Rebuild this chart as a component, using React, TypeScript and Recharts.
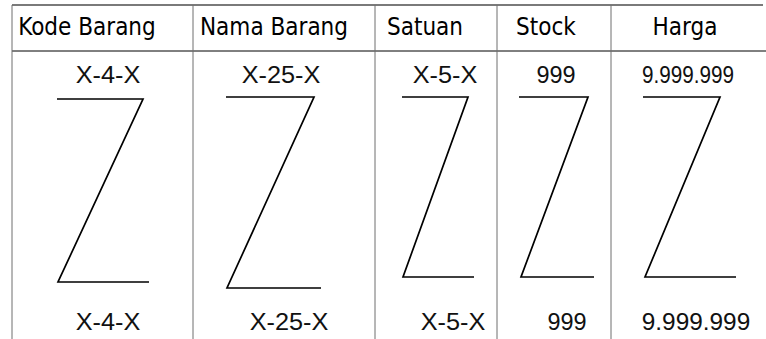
import React from 'react'
import {
  ComposedChart,
  Line,
  Scatter,
  XAxis,
  YAxis,
  ReferenceLine,
} from 'recharts'

// Report layout sketch: column headers, the sample field values above and
// below, and the "Z" repeat marker drawn in every column.
const headers = ['Kode Barang', 'Nama Barang', 'Satuan', 'Stock', 'Harga']
const fieldValues = ['X-4-X', 'X-25-X', 'X-5-X', '999', '9.999.999']

// layout units (same as the drawing's coordinate space)
const columnEdges = [12, 193, 375, 497, 611]
const headerCenters = [87, 274, 425, 546, 685]
const topValueCenters = [108, 281, 445, 556, 688]
const bottomValueCenters = [108, 289, 453, 567, 696]

// Z marker per column: top stroke (left, right, level), bottom stroke (left, right, level)
const zTopLeft = [57, 226, 402, 519, 643]
const zTopRight = [143, 314, 468, 588, 720]
const zTopLevel = [99, 97, 97, 97, 97]
const zBottomLeft = [58, 227, 403, 521, 645]
const zBottomRight = [149, 321, 474, 594, 736]
const zBottomLevel = [282, 288, 277, 277, 277]

const W = 766
const H = 339
const tableTop = 5
const headerLine = 51
const headerRow = 27
const topValueRow = 75
const bottomValueRow = 322

const headerData = headers.map((label, i) => ({ x: headerCenters[i], y: headerRow, label }))
const topData = fieldValues.map((label, i) => ({ x: topValueCenters[i], y: topValueRow, label, row: 'top' }))
const bottomData = fieldValues.map((label, i) => ({ x: bottomValueCenters[i], y: bottomValueRow, label, row: 'bottom' }))

const zShapes = headers.map((_, i) => [
  { x: zTopLeft[i], y: zTopLevel[i] },
  { x: zTopRight[i], y: zTopLevel[i] },
  { x: zBottomLeft[i], y: zBottomLevel[i] },
  { x: zBottomRight[i], y: zBottomLevel[i] },
])

// the sketch's value font is drawn a little wider in some places
const stretchFor = (label: string, row: string) => {
  if (label.includes('X')) return 1.1
  if (label.length > 3) return row === 'bottom' ? 1.06 : 0.9
  return 1.02
}

const headerText = (props: any) => (
  <text
    x={props.cx}
    y={props.cy}
    textAnchor="middle"
    dominantBaseline="central"
    fontFamily="'DejaVu Sans Condensed', 'DejaVu Sans', sans-serif"
    fontStretch="condensed"
    fontSize={24}
    fill="#000"
  >
    {props.payload.label}
  </text>
)

const valueText = (props: any) => {
  const sx = stretchFor(props.payload.label, props.payload.row)
  return (
    <text
      transform={`translate(${props.cx},${props.cy}) scale(${sx},1)`}
      textAnchor="middle"
      dominantBaseline="central"
      fontFamily="'Liberation Sans', Arial, sans-serif"
      fontSize={23}
      fill="#111"
    >
      {props.payload.label}
    </text>
  )
}

export default function App() {
  return (
    <div style={{ position: 'absolute', left: 0, top: 0, width: W, height: H, background: '#fff' }}>
      <ComposedChart width={W} height={H} margin={{ top: 0, right: 0, bottom: 0, left: 0 }}>
        <XAxis type="number" dataKey="x" domain={[0, W]} hide allowDataOverflow />
        <YAxis type="number" dataKey="y" domain={[0, H]} reversed hide allowDataOverflow />

        {/* table frame */}
        <ReferenceLine
          segment={[{ x: columnEdges[0], y: tableTop }, { x: 763, y: tableTop }]}
          stroke="#7a7a7a"
          strokeWidth={2}
          ifOverflow="visible"
        />
        <ReferenceLine
          segment={[{ x: columnEdges[0], y: headerLine }, { x: W, y: headerLine }]}
          stroke="#000"
          strokeWidth={1}
          ifOverflow="visible"
        />
        {columnEdges.map((x, i) => (
          <ReferenceLine
            key={`col-${i}`}
            segment={[{ x, y: tableTop }, { x, y: H }]}
            stroke="#6e6e6e"
            strokeWidth={1}
            ifOverflow="visible"
          />
        ))}

        {zShapes.map((pts, i) => (
          <Line
            key={`z-${i}`}
            data={pts}
            dataKey="y"
            type="linear"
            stroke="#000"
            strokeWidth={1.7}
            dot={false}
            activeDot={false}
            isAnimationActive={false}
          />
        ))}

        <Scatter data={headerData} shape={headerText} isAnimationActive={false} />
        <Scatter data={topData} shape={valueText} isAnimationActive={false} />
        <Scatter data={bottomData} shape={valueText} isAnimationActive={false} />
      </ComposedChart>
    </div>
  )
}
